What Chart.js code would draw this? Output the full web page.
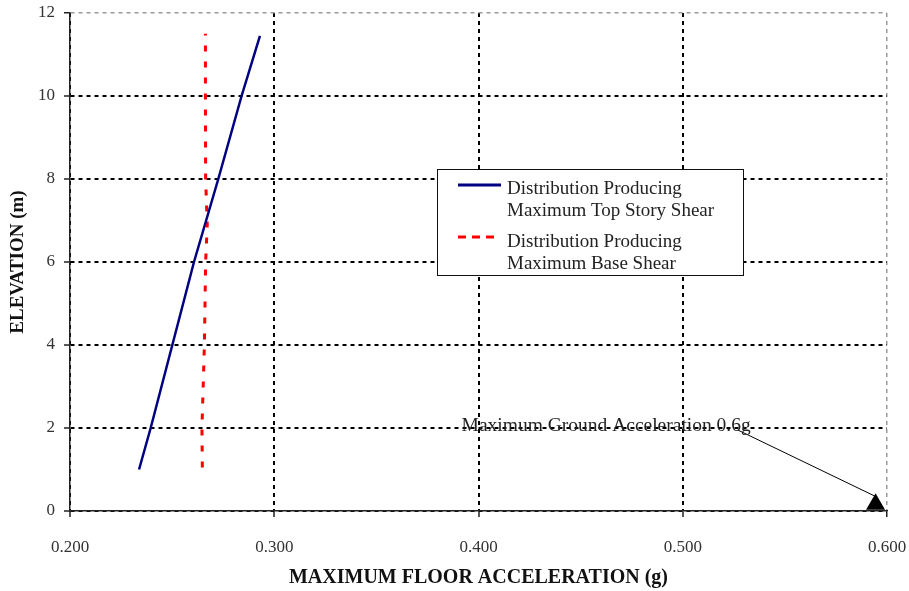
<!DOCTYPE html>
<html>
<head>
<meta charset="utf-8">
<script src="https://cdn.jsdelivr.net/npm/chart.js@4"></script>
<style>
  html, body { margin: 0; padding: 0; background: #fff; }
  #wrap { width: 909px; height: 591px; }
</style>
</head>
<body>
<div id="wrap"><canvas id="floorAccelChart" width="909" height="591"></canvas></div>
<script>
// values (x = floor acceleration in g, y = elevation in m)
const topShearAccel = [0.2338, 0.2395, 0.2501, 0.2607, 0.2726, 0.2840, 0.2930];
const topShearElev  = [1.0, 2.0, 4.0, 6.0, 8.0, 10.0, 11.45];
const baseShearAccel = [0.2648, 0.2646, 0.2658, 0.2664, 0.2672, 0.2664, 0.2663, 0.2663];
const baseShearElev  = [1.05, 2.0, 4.0, 6.0, 6.9, 8.0, 10.0, 11.5];
const groundAccelPoint = [0.5944, 0.16];
const arrowFrom = [0.527, 1.95];
const arrowTo = [0.594, 0.36];
const annotationText = 'Maximum Ground Acceleration 0.6g';
const annotationAt = [0.4625, 2.05];
const seriesLabels = [
    ['Distribution Producing', 'Maximum Top Story Shear'],
    ['Distribution Producing', 'Maximum Base Shear']
];
const xTitle = 'MAXIMUM FLOOR ACCELERATION (g)';
const yTitle = 'ELEVATION (m)';
const xRange = [0.2, 0.6];
const yRange = [0, 12];

const serif = "'Liberation Serif', 'DejaVu Serif', serif";
const toPoints = (xs, ys) => xs.map((x, i) => ({ x: x, y: ys[i] }));

// legend box + arrow annotation drawn on top
const overlayPlugin = {
    id: 'overlay',
    afterDraw(chart) {
        const ctx = chart.ctx;
        const xs = chart.scales.x, ys = chart.scales.y;

        // annotation text
        ctx.save();
        ctx.font = '19.5px ' + serif;
        ctx.fillStyle = '#222';
        ctx.textAlign = 'center';
        ctx.textBaseline = 'middle';
        ctx.fillText(annotationText, xs.getPixelForValue(annotationAt[0]), ys.getPixelForValue(annotationAt[1]));
        ctx.restore();

        // legend
        const bx = 437, by = 169, bw = 306, bh = 106;
        ctx.save();
        ctx.fillStyle = '#fff';
        ctx.fillRect(bx, by, bw, bh);
        ctx.strokeStyle = '#111';
        ctx.lineWidth = 1;
        ctx.strokeRect(bx + 0.5, by + 0.5, bw, bh);

        const items = [
            { ds: chart.data.datasets[0], sampleY: 185, sampleEnd: 501, dash: [], base: 194 },
            { ds: chart.data.datasets[1], sampleY: 237, sampleEnd: 496, dash: [8, 6], base: 247 }
        ];
        items.forEach(it => {
            ctx.beginPath();
            ctx.strokeStyle = it.ds.borderColor;
            ctx.lineWidth = 3;
            ctx.setLineDash(it.dash);
            ctx.moveTo(458, it.sampleY);
            ctx.lineTo(it.sampleEnd, it.sampleY);
            ctx.stroke();
            ctx.setLineDash([]);
            ctx.font = '19px ' + serif;
            ctx.fillStyle = '#222';
            ctx.textAlign = 'left';
            ctx.textBaseline = 'alphabetic';
            it.ds.label.forEach((line, i) => ctx.fillText(line, 507, it.base + i * 22));
        });
        ctx.restore();
    }
};

const isEdge = (v, edge) => Math.abs(v - edge) < 1e-9;

new Chart(document.getElementById('floorAccelChart').getContext('2d'), {
    type: 'scatter',
    data: {
        datasets: [{
            label: seriesLabels[0],
            data: toPoints(topShearAccel, topShearElev),
            showLine: true,
            borderColor: '#000080',
            borderWidth: 2.5,
            pointRadius: 0,
            tension: 0
        }, {
            label: seriesLabels[1],
            data: toPoints(baseShearAccel, baseShearElev),
            showLine: true,
            borderColor: '#ff0000',
            borderWidth: 3,
            borderDash: [6, 10],
            pointRadius: 0,
            tension: 0
        }, {
            label: 'arrow',
            data: [{ x: arrowFrom[0], y: arrowFrom[1] }, { x: arrowTo[0], y: arrowTo[1] }],
            showLine: true,
            borderColor: '#000',
            borderWidth: 1,
            pointRadius: 0
        }, {
            label: 'ground',
            data: [{ x: groundAccelPoint[0], y: groundAccelPoint[1] }],
            pointStyle: 'triangle',
            pointRadius: 11,
            backgroundColor: '#000',
            borderColor: '#000',
            borderWidth: 0,
            clip: false
        }]
    },
    options: {
        responsive: false,
        animation: false,
        layout: { padding: 0 },
        plugins: {
            legend: { display: false },
            tooltip: { enabled: false }
        },
        scales: {
            x: {
                type: 'linear',
                min: xRange[0],
                max: xRange[1],
                afterFit: s => {
                    s.height = 80;
                    s.paddingLeft = 0;
                    s.paddingRight = 22;
                },
                ticks: {
                    stepSize: 0.1,
                    padding: 20,
                    color: '#333',
                    font: { family: serif, size: 17 },
                    callback: v => Number(v).toFixed(3)
                },
                grid: {
                    color: c => isEdge(c.tick.value, xRange[1]) ? '#999' : '#000',
                    lineWidth: c => isEdge(c.tick.value, xRange[1]) ? 1.5 : 2,
                    tickColor: '#222',
                    tickLength: 6,
                    tickWidth: 1.5
                },
                border: { color: '#222', width: 1.5, dash: [4, 4] },
                title: {
                    display: true,
                    text: xTitle,
                    color: '#111',
                    padding: { top: 0, bottom: 1 },
                    font: { family: serif, size: 20, weight: 'bold' }
                }
            },
            y: {
                type: 'linear',
                min: yRange[0],
                max: yRange[1],
                afterFit: s => {
                    s.width = 70;
                    s.paddingTop = 13;
                    s.paddingBottom = 0;
                },
                ticks: {
                    stepSize: 2,
                    padding: 9,
                    color: '#333',
                    font: { family: serif, size: 17 }
                },
                grid: {
                    color: c => isEdge(c.tick.value, yRange[1]) ? '#999' : '#000',
                    lineWidth: c => isEdge(c.tick.value, yRange[1]) ? 1.5 : 2,
                    tickColor: '#222',
                    tickLength: 6,
                    tickWidth: 1.5
                },
                border: { color: '#222', width: 1.5, dash: [4, 4] },
                title: {
                    display: true,
                    text: yTitle,
                    color: '#111',
                    padding: { top: 7, bottom: 0 },
                    font: { family: serif, size: 19, weight: 'bold' }
                }
            }
        }
    },
    plugins: [overlayPlugin]
});
</script>
</body>
</html>
